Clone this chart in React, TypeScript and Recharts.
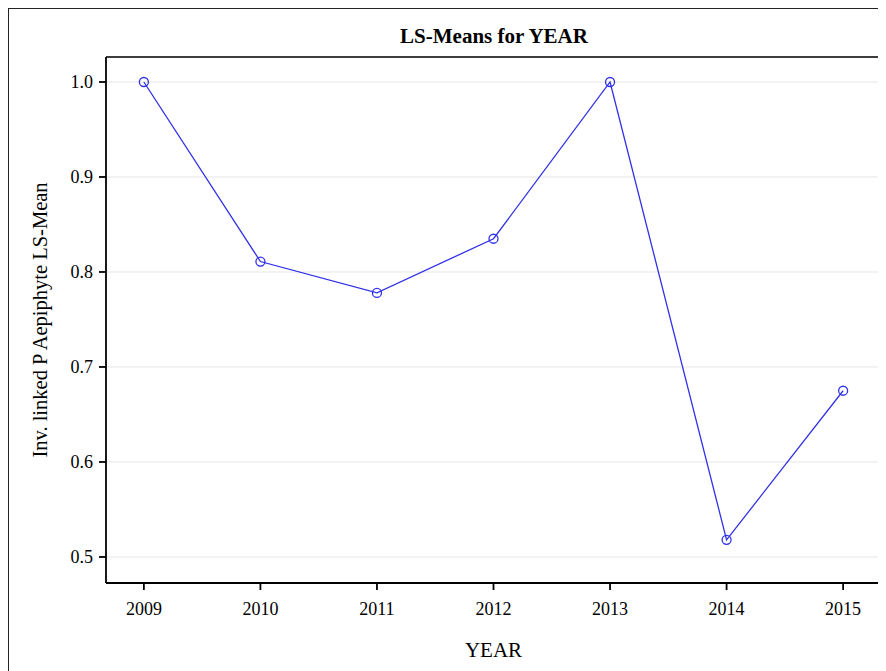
import { LineChart, Line, XAxis, YAxis, CartesianGrid } from "recharts";

// LS-means by year, inverse-linked scale
const YEARS = [2009, 2010, 2011, 2012, 2013, 2014, 2015];
const LS_MEANS = [1.0, 0.811, 0.778, 0.835, 1.0, 0.518, 0.675];
const Y_TICKS = [0.5, 0.6, 0.7, 0.8, 0.9, 1.0];

const X_DOMAIN = [2008.675, 2015.325];
const Y_DOMAIN = [0.4726, 1.0263];

const LINE_COLOR = "#3131e8";
const FONT = "'Liberation Serif', 'Times New Roman', serif";

const data = YEARS.map((year, i) => ({ year, mean: LS_MEANS[i] }));

export default function App() {
  return (
    <div
      style={{
        position: "relative",
        width: 877,
        height: 662,
        borderLeft: "1px solid #222",
        borderTop: "1px solid #222",
        fontFamily: FONT,
      }}
    >
      <div
        style={{
          position: "absolute",
          top: 15,
          left: 0,
          width: 970,
          textAlign: "center",
          fontWeight: "bold",
          fontSize: 21,
          color: "#000",
        }}
      >
        LS-Means for YEAR
      </div>
      <LineChart
        width={877}
        height={662}
        data={data}
        margin={{ top: 47, right: 4, bottom: 10, left: 31 }}
      >
        <CartesianGrid vertical={false} stroke="#e6e6e6" />
        <XAxis
          dataKey="year"
          type="number"
          domain={X_DOMAIN}
          ticks={YEARS}
          allowDataOverflow
          height={78}
          stroke="#000"
          strokeWidth={1.8}
          tickSize={7}
          tickMargin={12}
          tick={{ fill: "#000", fontSize: 18, fontFamily: FONT }}
          label={{ value: "YEAR", position: "insideBottom", offset: 4, fill: "#000", fontSize: 21, fontFamily: FONT }}
        />
        <XAxis
          xAxisId="top"
          orientation="top"
          dataKey="year"
          type="number"
          domain={X_DOMAIN}
          height={1}
          tick={false}
          tickLine={false}
          stroke="#000"
          strokeWidth={1.5}
        />
        <YAxis
          type="number"
          domain={Y_DOMAIN}
          ticks={Y_TICKS}
          allowDataOverflow
          width={66}
          stroke="#000"
          strokeWidth={1.8}
          tickSize={7}
          tickMargin={6}
          tickFormatter={(v: number) => v.toFixed(1)}
          tick={{ fill: "#000", fontSize: 18, fontFamily: FONT }}
          label={{
            value: "Inv. linked P Aepiphyte LS-Mean",
            angle: -90,
            position: "insideLeft",
            offset: 0,
            style: { textAnchor: "middle" },
            fill: "#000",
            fontSize: 20.5,
            fontFamily: FONT,
          }}
        />
        <YAxis
          yAxisId="right"
          orientation="right"
          domain={Y_DOMAIN}
          width={1}
          tick={false}
          tickLine={false}
          stroke="#000"
          strokeWidth={1.5}
        />
        <Line
          dataKey="mean"
          stroke={LINE_COLOR}
          strokeWidth={1.3}
          dot={{ r: 4.5, stroke: LINE_COLOR, strokeWidth: 1.3, fill: "none" }}
          isAnimationActive={false}
        />
      </LineChart>
    </div>
  );
}
